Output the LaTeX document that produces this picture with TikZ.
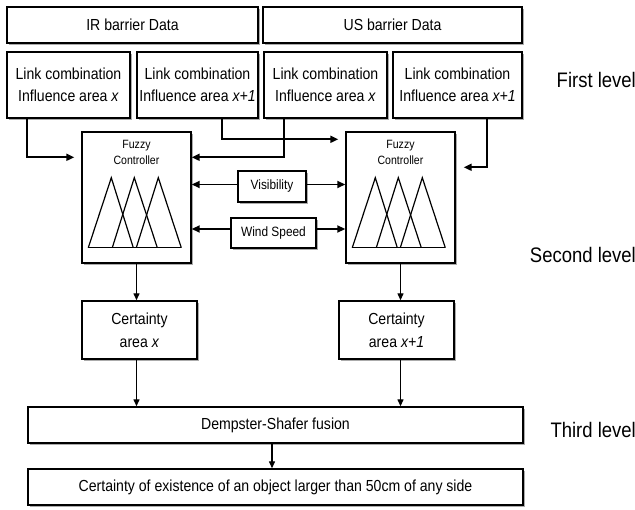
\documentclass[tikz,border=0pt]{standalone}
\usepackage{fontspec}
\setmainfont{Liberation Sans}[FakeStretch=0.88]
\usetikzlibrary{arrows.meta,shadows}
\begin{document}
\begin{tikzpicture}[x=1pt,y=-1pt,
  shad/.style={drop shadow={shadow xshift=2pt,shadow yshift=-2pt,fill=black!55,opacity=0.6}},
  box/.style={draw=black,line width=1.4pt,fill=white,shad,inner sep=0pt,align=center,font=\fontsize{16}{22}\selectfont},
  topbox/.style={box,line width=2.2pt},
  smallbox/.style={box,font=\fontsize{13.5}{16}\selectfont},
  fuzzytxt/.style={inner sep=0pt,align=center,anchor=north,font=\fontsize{12}{16}\selectfont},
  lvl/.style={inner sep=0pt,anchor=east,font=\fontsize{21}{24}\selectfont},
  arr/.style={line width=1.8pt,-{Triangle[length=8pt,width=7pt]}},
  thinarr/.style={line width=1.3pt,-{Triangle[length=7pt,width=6pt]}},
  tri/.style={line width=1.2pt,line join=miter}]
\useasboundingbox[fill=white] (0,0) rectangle (635,510);

% top data boxes
\node[topbox,minimum width=251pt,minimum height=36pt] (ir) at (132.5,25) {IR barrier Data};
\node[topbox,minimum width=259pt,minimum height=36pt] (us) at (392.5,25) {US barrier Data};

% link combination boxes
\node[box,minimum width=123pt,minimum height=66pt] (l1) at (68.5,85) {Link combination\\Influence area \textit{x}};
\node[box,minimum width=121pt,minimum height=66pt] (l2) at (197.5,85) {Link combination\\Influence area \textit{x+1}};
\node[box,minimum width=123pt,minimum height=66pt] (l3) at (325.5,85) {Link combination\\Influence area \textit{x}};
\node[box,minimum width=129pt,minimum height=66pt] (l4) at (457.5,85) {Link combination\\Influence area \textit{x+1}};

% fuzzy controllers
\node[box,minimum width=109pt,minimum height=131pt] (fz1) at (136.5,197.5) {};
\node[box,minimum width=109pt,minimum height=131pt] (fz2) at (400.5,197.5) {};
\node[fuzzytxt] (fz1t) at ([yshift=-9pt]fz1.north) {Fuzzy\\Controller};
\node[fuzzytxt] (fz2t) at ([yshift=-9pt]fz2.north) {Fuzzy\\Controller};

\foreach \f in {fz1,fz2}{
  \begin{scope}[shift={(\f.south west)}]
    \draw[tri] (7,-16) -- (100,-16);
    \draw[tri] (7,-16) -- (30,-86) -- (52,-16);
    \draw[tri] (31,-16) -- (53,-86) -- (76,-16);
    \draw[tri] (55,-16) -- (77,-86) -- (100,-16);
  \end{scope}
}

% environment inputs
\node[smallbox,minimum width=68pt,minimum height=31pt] (vis) at (272,186.5) {Visibility};
\node[smallbox,minimum width=85pt,minimum height=30pt] (wind) at (273.5,233) {Wind Speed};

% certainty boxes
\node[box,minimum width=115pt,minimum height=58pt,font=\fontsize{16}{23}\selectfont] (c1) at (139.5,330) {Certainty\\area \textit{x}};
\node[box,minimum width=115pt,minimum height=58pt,font=\fontsize{16}{23}\selectfont] (c2) at (396.5,330) {Certainty\\area \textit{x+1}};

% fusion and result
\node[box,minimum width=495pt,minimum height=36pt] (ds) at (275.5,425) {Dempster-Shafer fusion};
\node[box,minimum width=495pt,minimum height=36pt] (fin) at (275.5,487) {Certainty of existence of an object larger than 50cm of any side};

% level labels
\node[lvl] (lv1) at (636,80) {First level};
\node[lvl] (lv2) at (636,255) {Second level};
\node[lvl] (lv3) at (636,430) {Third level};

% connectors from link combinations to fuzzy controllers
\draw[arr] ([xshift=21pt]l1.south west) |- ([xshift=-7pt,yshift=-26pt]fz1.north west);
\draw[arr] ([xshift=86pt]l2.south west) |- ([xshift=-7pt,yshift=-8pt]fz2.north west);
\draw[arr] ([xshift=21pt]l3.south west) |- ([yshift=-26pt]fz1.north east);
\draw[arr] ([xshift=95pt]l4.south west) |- ([xshift=8pt,yshift=-36pt]fz2.north east);

% environment arrows
\draw[arr] ([yshift=2pt]vis.west) -- ([yshift=2pt]vis.west -| fz1.east);
\draw[arr] ([yshift=2pt]vis.east) -- ([yshift=2pt]vis.east -| fz2.west);
\draw[arr] ([yshift=4pt]wind.west) -- ([yshift=4pt]wind.west -| fz1.east);
\draw[arr] ([yshift=4pt]wind.east) -- ([yshift=4pt]wind.east -| fz2.west);

% to certainty
\draw[thinarr] (fz1.south) -- (fz1.south |- c1.north);
\draw[thinarr] (fz2.south) -- (fz2.south |- c2.north);

% to fusion
\draw[thinarr] (fz1.south |- c1.south) -- (fz1.south |- ds.north);
\draw[thinarr] (fz2.south |- c2.south) -- (fz2.south |- ds.north);
\draw[thinarr] ([xshift=-3.5pt]ds.south) -- ([xshift=-3.5pt]ds.south |- fin.north);
\end{tikzpicture}
\end{document}
